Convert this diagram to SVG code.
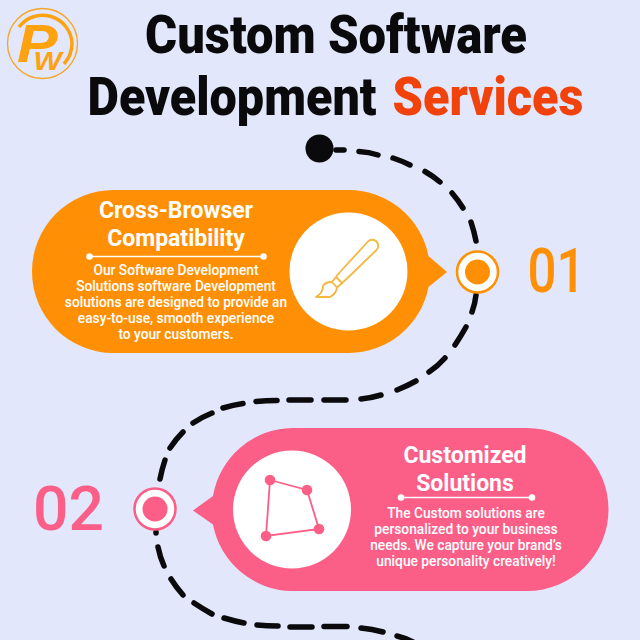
<svg xmlns="http://www.w3.org/2000/svg" width="640" height="640" viewBox="0 0 640 640">
<style>
.t{font-family:Roboto,"Liberation Sans",sans-serif;text-anchor:middle}
.title{font-weight:900;font-size:53px;fill:#0a0a0c}
.h{font-weight:700;font-size:23px;fill:#fff}
.b{font-weight:500;font-size:13.750px;fill:#fff}
.n{font-weight:500;font-size:62px}
.d{fill:none;stroke:#0a0a0c;stroke-width:5.500;stroke-linecap:round}
.or{fill:#FF9005}.pk{fill:#FB5E87}
</style>
<rect width="640" height="640" fill="#E2E7FB"/>
<g id="logo">
<circle cx="42.500" cy="43.500" r="35" fill="none" stroke="#F5A623" stroke-width="1.300"/>
<path d="M19 27A29.500 29.500 0 0 1 72 43Q72 55 64 64" fill="none" stroke="#FFA20F" stroke-width="3.500"/>
<text transform="translate(17 62) scale(1.150 1)" font-family="Liberation Sans,sans-serif" font-weight="700" font-style="italic" font-size="53" fill="#FFA20F">P<tspan dx="-21" dy="8" font-size="26">W</tspan></text>
</g>
<g id="title">
<text class="t title" x="336" y="53" textLength="382" lengthAdjust="spacingAndGlyphs">Custom Software</text>
<text class="t title" x="232" y="115" textLength="289" lengthAdjust="spacingAndGlyphs">Development</text>
<text class="t title" x="488" y="115" textLength="191" lengthAdjust="spacingAndGlyphs" style="fill:#F0420A">Services</text>
</g>
<g id="connectors">
<path class="d" d="M336 150H344"/>
<path class="d" d="M359 151.500Q369 152 378 155"/>
<path class="d" d="M393 158Q402 161 410 165"/>
<path class="d" d="M425 171.500Q433 176 440 182"/>
<path class="d" d="M452 193Q458 200 463 208"/>
<path class="d" d="M471 222Q474 231 476 241"/>
<path class="d" d="M476 295Q475 304 472 312"/>
<path class="d" d="M466 327Q461 336 455 345"/>
<path class="d" d="M445 358Q438 366 429 372"/>
<path class="d" d="M416 381Q407 386 397 390"/>
<path class="d" d="M381 395Q371 398 361 399"/>
<path class="d" d="M346 400H324"/>
<path class="d" d="M311 400H289"/>
<path class="d" d="M277 400.500Q266 400.500 256 401.500"/>
<path class="d" d="M243 403.500Q233 405 223 408"/>
<path class="d" d="M212 413Q202 417 193 423"/>
<path class="d" d="M183 432Q176 439 170 448"/>
<path class="d" d="M165 460Q162 469 160 479"/>
<path class="d" d="M156 532V533"/>
<path class="d" d="M158 547Q160 557 164 566"/>
<path class="d" d="M171 579Q176 587 183 595"/>
<path class="d" d="M194 603Q203 609 212 614"/>
<path class="d" d="M224 618Q234 621 244 623"/>
<path class="d" d="M257 625Q267 626 278 626"/>
<path class="d" d="M290 627H312"/>
<path class="d" d="M324 626.500H347"/>
<path class="d" d="M361 628Q372 629 383 632"/>
<path class="d" d="M397 636Q405 638 413 642"/>
</g>
<g id="start"><circle cx="319.500" cy="148.500" r="14" fill="#0a0a0c"/></g>
<g id="node-01">
<path class="or" d="M113.500 190H349A81.500 81.500 0 0 1 428.500 256L447 272L428.500 287A81.500 81.500 0 0 1 349 353H113.500A81.500 81.500 0 0 1 113.500 190Z"/>
<circle cx="348.500" cy="271.500" r="59" fill="#fff"/>
<g fill="none" stroke="#F4B73F" stroke-width="1.800" stroke-linejoin="round">
<path d="M347 278.500L376.500 250A5.800 5.800 0 0 0 368 241.500L340 272"/>
<path d="M340 272L332 282L337 287.500L347 278.500M336 277L342 283"/>
<path d="M332 282Q325 282 323 286Q323 293 316 297H330Q336 294 337 287.500"/>
</g>
<text class="t h" x="176" y="218">Cross-Browser</text>
<text class="t h" x="176" y="246">Compatibility</text>
<path d="M89 256.500H264" stroke="#fff" stroke-width="1.500"/>
<circle cx="89.500" cy="256.500" r="3.300" fill="#fff"/><circle cx="263.500" cy="256.500" r="3.300" fill="#fff"/>
<text class="t b" x="176" y="275">Our Software Development</text>
<text class="t b" x="176" y="291">Solutions software Development</text>
<text class="t b" x="176" y="307">solutions are designed to provide an</text>
<text class="t b" x="176" y="323">easy-to-use, smooth experience</text>
<text class="t b" x="176" y="339">to your customers.</text>
<circle cx="477.500" cy="272" r="20.500" fill="#fff" stroke="#FF9005" stroke-width="2.500"/>
<circle class="or" cx="477.500" cy="272" r="12.500"/>
<text class="t n or" x="556.500" y="292" textLength="58" lengthAdjust="spacingAndGlyphs">01</text>
</g>
<g id="node-02">
<path class="pk" d="M527 428A81.500 81.500 0 0 1 527 591H292A81.500 81.500 0 0 1 213 524.500L193 510.500L213 496A81.500 81.500 0 0 1 292 428Z"/>
<circle cx="292" cy="509.500" r="59" fill="#fff"/>
<path d="M270 480L307 490L319 529L266 536Z" fill="none" stroke="#FB5E87" stroke-width="1.800"/>
<g class="pk"><circle cx="270" cy="480" r="5.300"/><circle cx="307" cy="490" r="5.300"/><circle cx="319" cy="529" r="5.300"/><circle cx="266" cy="536" r="5.300"/></g>
<text class="t h" x="465" y="463">Customized</text>
<text class="t h" x="465" y="491">Solutions</text>
<path d="M401 497.500H532" stroke="#fff" stroke-width="1.500"/>
<circle cx="401" cy="497.500" r="3.300" fill="#fff"/><circle cx="532" cy="497.500" r="3.300" fill="#fff"/>
<text class="t b" x="466" y="518">The Custom solutions are</text>
<text class="t b" x="466" y="534">personalized to your business</text>
<text class="t b" x="466" y="550">needs. We capture your brand’s</text>
<text class="t b" x="466" y="566">unique personality creatively!</text>
<circle cx="155" cy="509" r="20.500" fill="#fff" stroke="#FB5E87" stroke-width="2.500"/>
<circle class="pk" cx="155" cy="509" r="12.500"/>
<text class="t n pk" x="68.500" y="530" textLength="71" lengthAdjust="spacingAndGlyphs">02</text>
</g>
</svg>
